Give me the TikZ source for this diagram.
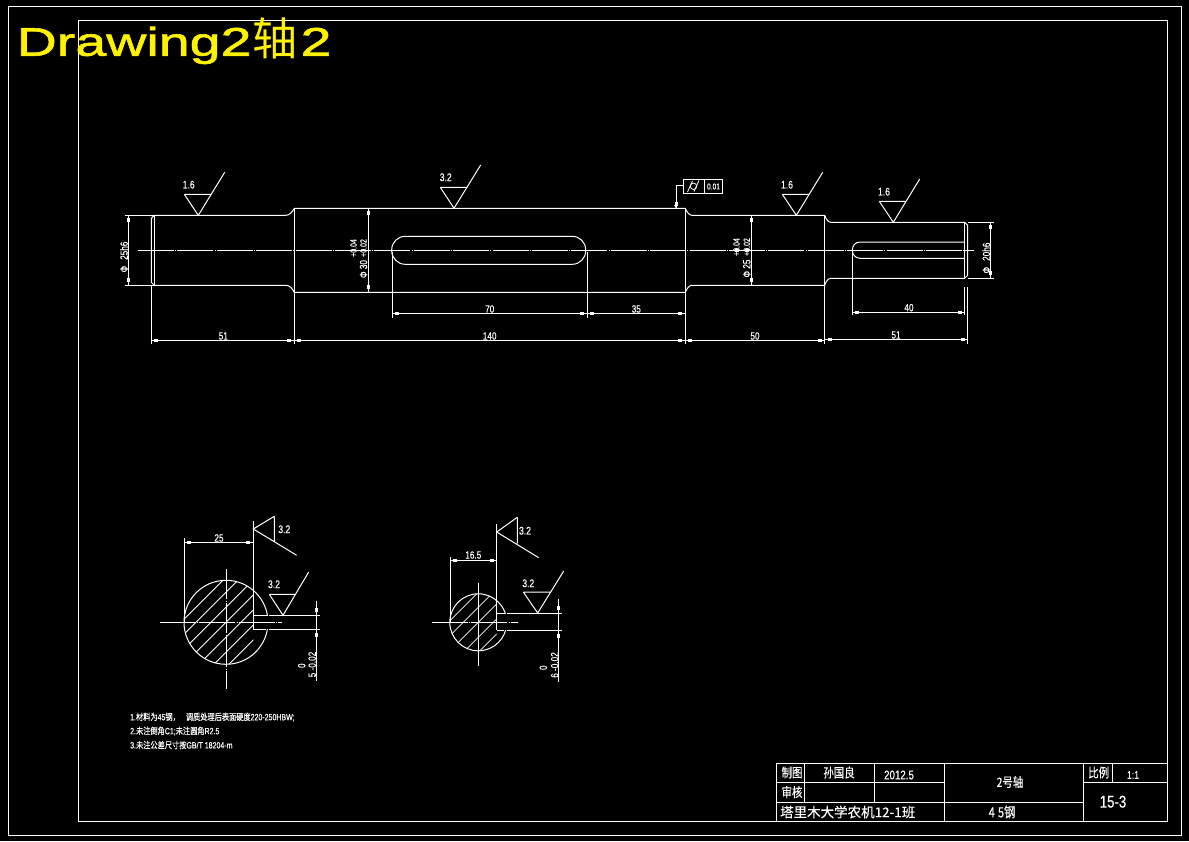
\documentclass[tikz,border=0pt]{standalone}
\usepackage{fontspec}
\setmainfont{Liberation Sans}
\newfontfamily\cadf[FakeStretch=0.78,FakeBold=0.35]{Liberation Sans}
\newfontfamily\cjkf[FakeStretch=0.8,FakeBold=0.3]{Noto Sans CJK SC}
\newfontfamily\cjkw[FakeStretch=1.0,FakeBold=0.3]{Noto Sans CJK SC}
\newfontfamily\ttlf[FakeStretch=1.39,FakeBold=1.5]{Liberation Sans}
\newfontfamily\ttlc{Noto Sans CJK SC}
\newcommand{\fsz}[1]{\fontsize{#1}{#1}\selectfont}
\newcommand{\cn}[1]{{\cjkf #1}}
\newcommand{\hmark}[2]{\fill[white] (#1-2,#2-1.5) rectangle (#1+2,#2+1.5);}
\newcommand{\vmark}[2]{\fill[white] (#1-1.5,#2-2) rectangle (#1+1.5,#2+2);}
\newcommand{\dimh}[3]{\draw[cadline] (#1,#3) -- (#2,#3); \hmark{#1+5}{#3} \hmark{#2-5}{#3}}
\newcommand{\dimv}[3]{\draw[cadline] (#3,#1) -- (#3,#2); \vmark{#3}{#1+5} \vmark{#3}{#2-5}}
\tikzset{
  cadline/.style={draw=white,line width=1pt},
  centre/.style={cadline,dash pattern=on 36pt off 1.2pt on 1pt off 1.2pt},
  hatchline/.style={draw=white,line width=0.8pt},
  dimtext/.style={text=white,inner sep=0pt,font=\cadf\fsz{10.5}},
  smalltext/.style={text=white,inner sep=0pt,font=\cadf\fsz{9}},
  roughtext/.style={text=white,inner sep=0pt,font=\cadf\fsz{11}},
  noteline/.style={text=white,inner sep=0pt,anchor=west,font=\cadf\fsz{9}},
  blocktext/.style={text=white,inner sep=0pt,font=\cadf\fsz{12.5}},
  blockcjk/.style={text=white,inner sep=0pt,font=\cjkf\fsz{13}},
}
\begin{document}
\begin{tikzpicture}[x=1pt,y=-1pt]
\useasboundingbox (0,0) rectangle (1189,841);
\fill[black] (0,0) rectangle (1189,841);
% frames
\draw[cadline] (8.3,6.3) rectangle (1181.7,835.3);
\draw[cadline] (78.3,20.3) rectangle (1167.7,821.7);
% title
\node[anchor=west,inner sep=0pt,text=yellow] (title) at (16.5,41) {\ttlf\fsz{40}Drawing2\hspace{1pt}{\ttlc\fsz{45}轴}\hspace{3pt}2};
% shaft outline
\draw[cadline] (154.3,215.3) -- (285.7,215.3) .. controls (290,215.3) and (292,212) .. (294.3,208.3) -- (685.3,208.3)
  .. controls (687,212) and (689,215.3) .. (692,215.3) -- (824.7,215.3)
  .. controls (826,219) and (828,222.3) .. (831,222.3) -- (964.7,222.3) -- (967.7,225.3) -- (967.7,275.3) -- (964.7,278.3)
  -- (831,278.3) .. controls (828,278.3) and (826,281.5) .. (824.7,285.3) -- (692,285.3)
  .. controls (689,285.3) and (687,288.5) .. (685.3,292.3) -- (294.3,292.3)
  .. controls (292,288.5) and (290,285.3) .. (285.7,285.3) -- (154.3,285.3) -- (151.3,282.3) -- (151.3,218.3) -- cycle;
\draw[cadline] (154.3,215.3) -- (154.3,285.3);
\draw[cadline] (294.3,208.3) -- (294.3,292.3);
\draw[cadline] (685.3,208.3) -- (685.3,292.3);
\draw[cadline] (824.7,215.3) -- (824.7,285.3);
\draw[cadline] (964.7,222.3) -- (964.7,278.3);
\draw[centre] (138,250.3) -- (974,250.3);
% keyways
\draw[cadline,rounded corners=13.5pt] (391.7,236.3) rectangle (585.7,264.3);
\draw[cadline] (964.7,242) -- (860,242) .. controls (855,242) and (852.3,246) .. (852.3,250.3) .. controls (852.3,254) and (855,258.3) .. (860,258.3) -- (964.7,258.3);
% extension lines
\draw[cadline] (124.7,215.3) -- (154.3,215.3) (124.7,285.3) -- (154.3,285.3);
\draw[cadline] (967.7,222.3) -- (994,222.3) (967.7,278.3) -- (994,278.3);
\draw[cadline] (151.3,285.3) -- (151.3,344.3);
\draw[cadline] (294.3,292.3) -- (294.3,344.3);
\draw[cadline] (685.3,292.3) -- (685.3,344.3);
\draw[cadline] (824.7,285.3) -- (824.7,344.3);
\draw[cadline] (967.7,287) -- (967.7,343.7);
\draw[cadline] (392.3,252) -- (392.3,317.7);
\draw[cadline] (587.3,252) -- (587.3,317.7);
\draw[cadline] (852.3,250.3) -- (852.3,315);
\draw[cadline] (964.7,287) -- (964.7,315);
% dimensions
\dimh{151.3}{294.3}{340.3}
\dimh{294.3}{685.3}{340.3}
\dimh{685.3}{824.7}{340.3}
\dimh{824.7}{967.7}{339.3}
\dimh{392.3}{587.3}{313.3}
\dimh{587.3}{685.3}{313.3}
\dimh{852.3}{964.7}{312.3}
\dimv{215.3}{285.3}{128.3}
\dimv{222.3}{278.3}{990.7}
\dimv{208.3}{292.3}{368.3}
\dimv{215.3}{285.3}{751.7}
\hmark{736.7}{250.3}
\hmark{746.7}{250.3}
\node[dimtext] (d51a) at (223.3,336) {51};
\node[dimtext] (d140) at (489.7,336) {140};
\node[dimtext] (d70) at (489.7,309) {70};
\node[dimtext] (d35) at (636.3,309) {35};
\node[dimtext] (d50) at (755,336) {50};
\node[dimtext] (d51b) at (896,335) {51};
\node[dimtext] (d40) at (909,307.7) {40};
\node[dimtext,rotate=90] (d25h) at (124,257) {Φ\hspace{6pt}25h6};
\node[dimtext,rotate=90] (d20h) at (986.3,258) {Φ\hspace{6pt}20h6};
\node[dimtext,rotate=90] (d30) at (363.5,269) {Φ 30};
\node[smalltext,rotate=90] (d30a) at (363.5,248) {+0.02};
\node[smalltext,rotate=90] (d30b) at (353.5,248) {+0.04};
\node[dimtext,rotate=90] (d25) at (746.8,268.5) {Φ 25};
\node[smalltext,rotate=90] (d25a) at (746.8,247) {+0.02};
\node[smalltext,rotate=90] (d25b) at (736.5,247) {+0.04};
% roughness on shaft
\draw[cadline] (184.3,194.3) -- (211.3,194.3) (184.3,194.3) -- (198.3,215.3) -- (224.7,172.3);
\node[roughtext] (r1) at (188.7,184.7) {1.6};
\draw[cadline] (440.3,187.3) -- (467.3,187.3) (440.3,187.3) -- (454,208.3) -- (480.7,165);
\node[roughtext] (r2) at (445.7,177.3) {3.2};
\draw[cadline] (782.3,194.3) -- (809.3,194.3) (782.3,194.3) -- (796.3,215.3) -- (822.7,172.3);
\node[roughtext] (r3) at (787,184.7) {1.6};
\draw[cadline] (879.3,201.3) -- (906.3,201.3) (879.3,201.3) -- (893.3,222.3) -- (919.7,179);
\node[roughtext] (r4) at (884,191.7) {1.6};
% tolerance frame
\draw[cadline] (683.3,179.3) rectangle (722.7,193.3) (704.3,179.3) -- (704.3,193.3);
\draw[cadline] (683.3,185) -- (676,185) -- (676,208.3);
\vmark{676}{203.5}
\fill[white] (674,205) -- (678,205) -- (676,208.3) -- cycle;
\draw[draw=white,line width=0.8pt] (693.5,186.3) circle (3.2);
\draw[draw=white,line width=0.8pt] (687.5,192) -- (692.5,181) (694,191.5) -- (699,180.5);
\node[text=white,inner sep=0pt,font=\cadf\fsz{8.5}] (tol) at (713.5,186.5) {0.01};
% section 1
\begin{scope}
\clip (226,622.3) circle (42);
\clip (180,575) rectangle (253.3,670);
\foreach \k in {-5,...,4} {\draw[hatchline] (286+15*\k,562.3) -- (166+15*\k,682.3);}
\end{scope}
\draw[cadline] (226,622.3) circle (42);
\fill[black] (253.9,615.8) rectangle (272,628.8);
\draw[cadline] (253.3,521) -- (253.3,629.3);
\draw[cadline] (253.3,615.3) -- (267.7,615.3) (269,615.3) -- (320,615.3);
\draw[cadline] (253.3,629.3) -- (266,629.3) (269,629.3) -- (320,629.3);
\draw[centre] (160,622.3) -- (281.7,622.3);
\draw[cadline,dash pattern=on 30pt off 1.5pt on 1pt off 1.5pt] (226,569) -- (226,689);
\draw[cadline] (184.3,538) -- (184.3,622.3);
\dimh{184.3}{253.3}{542.3}
\node[dimtext] (s1w) at (219,538) {25};
\draw[cadline] (274.3,516.3) -- (274.3,542) (274.3,516.3) -- (253.3,529) -- (296.7,555.3);
\node[roughtext] (s1r1) at (284.3,529.3) {3.2};
\draw[cadline] (269.3,594.3) -- (295.7,594.3) (269.3,594.3) -- (283,615.3) -- (308.7,572);
\node[roughtext] (s1r2) at (274,584.3) {3.2};
\draw[cadline] (316.3,600.7) -- (316.3,680.7);
\vmark{316.3}{609.7}
\vmark{316.3}{635}
\node[dimtext,rotate=90] (s1d) at (312.2,664.5) {5 -0.02};
\node[dimtext,rotate=90] (s1z) at (301.7,665.7) {0};
% section 2
\begin{scope}
\clip (478.3,622.3) circle (28.5);
\clip (445,590) rectangle (496.7,655);
\foreach \k in {-3,...,3} {\draw[hatchline] (518.3+15*\k,582.3) -- (438.3+15*\k,662.3);}
\end{scope}
\draw[cadline] (478.3,622.3) circle (28.5);
\fill[black] (497.3,613.5) rectangle (508,629.8);
\draw[cadline] (496.7,524) -- (496.7,630.3);
\draw[cadline] (496.7,613) -- (505,613) (506.5,613) -- (562,613);
\draw[cadline] (496.7,630.3) -- (504,630.3) (506.5,630.3) -- (562,630.3);
\draw[centre] (432,622.3) -- (518,622.3);
\draw[cadline] (478.3,582.7) -- (478.3,665.7);
\draw[cadline] (450.3,556.7) -- (450.3,622.3);
\dimh{450.3}{496.7}{560.3}
\node[dimtext] (s2w) at (473.3,555) {16.5};
\draw[cadline] (517.3,517.3) -- (517.3,543.3) (517.3,517.3) -- (496.7,532) -- (538.7,557.7);
\node[roughtext] (s2r1) at (525,530.7) {3.2};
\draw[cadline] (523.3,592) -- (550.3,592) (523.3,592) -- (537.7,613) -- (563.7,571);
\node[roughtext] (s2r2) at (528.3,583.3) {3.2};
\draw[cadline] (558.3,599) -- (558.3,681.7);
\vmark{558.3}{608}
\vmark{558.3}{636}
\node[dimtext,rotate=90] (s2d) at (554.7,665) {6 -0.02};
\node[dimtext,rotate=90] (s2z) at (543.3,667.7) {0};
% notes
\node[noteline] (n1) at (130,717) {1.\cn{材料为}45\cn{钢，}\hspace{6pt}\cn{调质处理后表面硬度}220-250HBW;};
\node[noteline] (n2) at (130,731) {2.\cn{未注倒角}C1;\cn{未注圆角}R2.5};
\node[noteline] (n3) at (130,745) {3.\cn{未注公差尺寸按}GB/T 18204-m};
% title block
\draw[cadline] (776,763.7) rectangle (1167.7,821.7);
\draw[cadline] (776,782.7) -- (944.3,782.7) (776,802) -- (1083.3,802) (1083.3,782.7) -- (1167.7,782.7);
\draw[cadline] (804.7,763.7) -- (804.7,802) (874.3,763.7) -- (874.3,802) (944.3,763.7) -- (944.3,821.7) (1083.3,763.7) -- (1083.3,821.7) (1112,763.7) -- (1112,782.7);
\node[blockcjk] (b1) at (792,772.5) {制图};
\node[blockcjk] (b2) at (839,772.5) {孙国良};
\node[blocktext] (b3) at (899,775) {2012.5};
\node[blockcjk] (b4) at (792,792) {审核};
\node[text=white,inner sep=0pt,font=\cjkw\fsz{13.5}] (b5) at (847.7,812) {塔里木大学农机12-1班};
\node[blockcjk] (b6) at (1010,782) {2号轴};
\node[blockcjk,font=\cjkf\fsz{14}] (b7) at (1002,812) {4\hspace{3pt}5钢};
\node[blockcjk] (b8) at (1098.7,772.5) {比例};
\node[blocktext,font=\cadf\fsz{11}] (b9) at (1133,775) {1:1};
\node[text=white,inner sep=0pt,font=\cadf\fsz{17}] (b10) at (1113,801.7) {15-3};
\end{tikzpicture}
\end{document}
